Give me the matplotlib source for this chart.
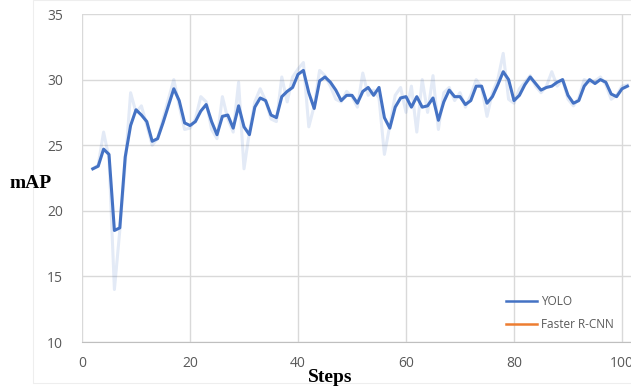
import matplotlib
matplotlib.use("Agg")
import matplotlib.pyplot as plt
from matplotlib.patches import Rectangle

steps = list(range(2, 102))
yolo_smooth = [23.2, 23.4, 24.7, 24.3, 18.5, 18.7, 24.1, 26.5, 27.7, 27.3,
               26.8, 25.3, 25.5, 26.7, 28.0, 29.3, 28.4, 26.7, 26.5, 26.8,
               27.6, 28.1, 26.8, 25.8, 27.2, 27.3, 26.3, 28.0, 26.4, 25.8,
               27.9, 28.6, 28.4, 27.3, 27.1, 28.7, 29.1, 29.4, 30.4, 30.7,
               29.0, 27.8, 29.9, 30.2, 29.8, 29.2, 28.4, 28.8, 28.8, 28.2,
               29.1, 29.4, 28.8, 29.4, 27.1, 26.3, 27.9, 28.6, 28.7, 27.9,
               28.7, 27.9, 28.0, 28.6, 26.9, 28.3, 29.2, 28.7, 28.7, 28.1,
               28.4, 29.5, 29.5, 28.2, 28.7, 29.6, 30.6, 30.0, 28.4, 28.8,
               29.6, 30.2, 29.7, 29.2, 29.4, 29.5, 29.8, 30.0, 28.8, 28.2,
               28.4, 29.5, 30.0, 29.7, 30.0, 29.8, 28.9, 28.7, 29.3, 29.5]
yolo_raw = [23.2, 23.5, 26.0, 24.0, 14.0, 18.5, 23.5, 29.0, 27.5, 28.0,
            26.5, 25.0, 25.5, 27.0, 28.5, 30.0, 28.0, 26.2, 26.3, 27.0,
            28.7, 28.3, 26.2, 25.5, 28.7, 27.0, 26.0, 29.8, 23.2, 26.0,
            28.3, 29.3, 28.4, 27.0, 26.8, 30.2, 28.3, 30.2, 30.8, 31.3,
            26.4, 28.0, 30.7, 30.3, 29.5, 28.5, 28.3, 29.1, 28.7, 27.9,
            30.5, 28.8, 29.2, 28.6, 24.3, 26.5, 28.8, 29.4, 27.5, 29.5,
            26.0, 30.0, 27.5, 30.3, 26.2, 29.0, 29.4, 28.4, 29.0, 27.9,
            28.8, 30.0, 29.4, 27.2, 29.0, 30.0, 32.0, 28.5, 28.2, 29.3,
            29.8, 30.3, 29.5, 29.0, 29.5, 30.6, 29.5, 30.0, 28.5, 28.0,
            28.6, 30.0, 29.8, 29.9, 30.2, 29.6, 28.5, 28.8, 29.5, 29.6]
faster_steps = []
faster_vals = []
x_ticks = [0, 20, 40, 60, 80, 100]
y_ticks = [10, 15, 20, 25, 30, 35]

W, H = 631, 389
fig = plt.figure(figsize=(W / 100, H / 100), dpi=100)
fig.patches.append(Rectangle((33 / W, 1 - 383 / H), 1.0, 383 / H, transform=fig.transFigure,
                             fill=False, edgecolor="#EEEEEE", linewidth=0.8))
ax = fig.add_axes([82 / W, 1 - 342 / H, (W - 82) / W, (342 - 14) / H])
ax.set_xlim(0, (W - 82) / 5.4)
ax.set_ylim(10, 35)
ax.set_xticks(x_ticks)
ax.set_yticks(y_ticks)
ax.grid(True, color="#D9D9D9", linewidth=1.0)
ax.set_axisbelow(True)
for s in ["top", "right", "left"]:
    ax.spines[s].set_visible(False)
ax.spines["bottom"].set_color("#BFBFBF")
ax.tick_params(length=0, labelsize=10, labelcolor="#595959")
ax.tick_params(axis="x", pad=10)
ax.tick_params(axis="y", pad=13.5)
for lbl in ax.get_xticklabels() + ax.get_yticklabels():
    lbl.set_family("Open Sans")

ax.plot(steps, yolo_raw, color="#4472C4", alpha=0.15, linewidth=2.2, solid_joinstyle="round")
ax.plot(steps, yolo_smooth, color="#4472C4", linewidth=2.2, label="YOLO", solid_joinstyle="round")
ax.plot(faster_steps, faster_vals, color="#ED7D31", linewidth=1.5, label="Faster R-CNN")

leg = ax.legend(loc="lower left", bbox_to_anchor=(0.753, 0.0), frameon=False,
                prop={"family": "Open Sans", "size": 8.5}, labelcolor="#595959",
                handlelength=2.6, handletextpad=0.35, labelspacing=0.9)
for h in leg.get_lines():
    h.set_linewidth(1.8)

fig.text(10 / W, 1 - 183 / H, "mAP", family="Liberation Serif", fontweight="bold",
         fontsize=14, va="center", ha="left")
fig.text(308 / W, 1 - 377 / H, "Steps", family="Liberation Serif", fontweight="bold",
         fontsize=14, va="center", ha="left")

fig.savefig("out.png", dpi=100)
